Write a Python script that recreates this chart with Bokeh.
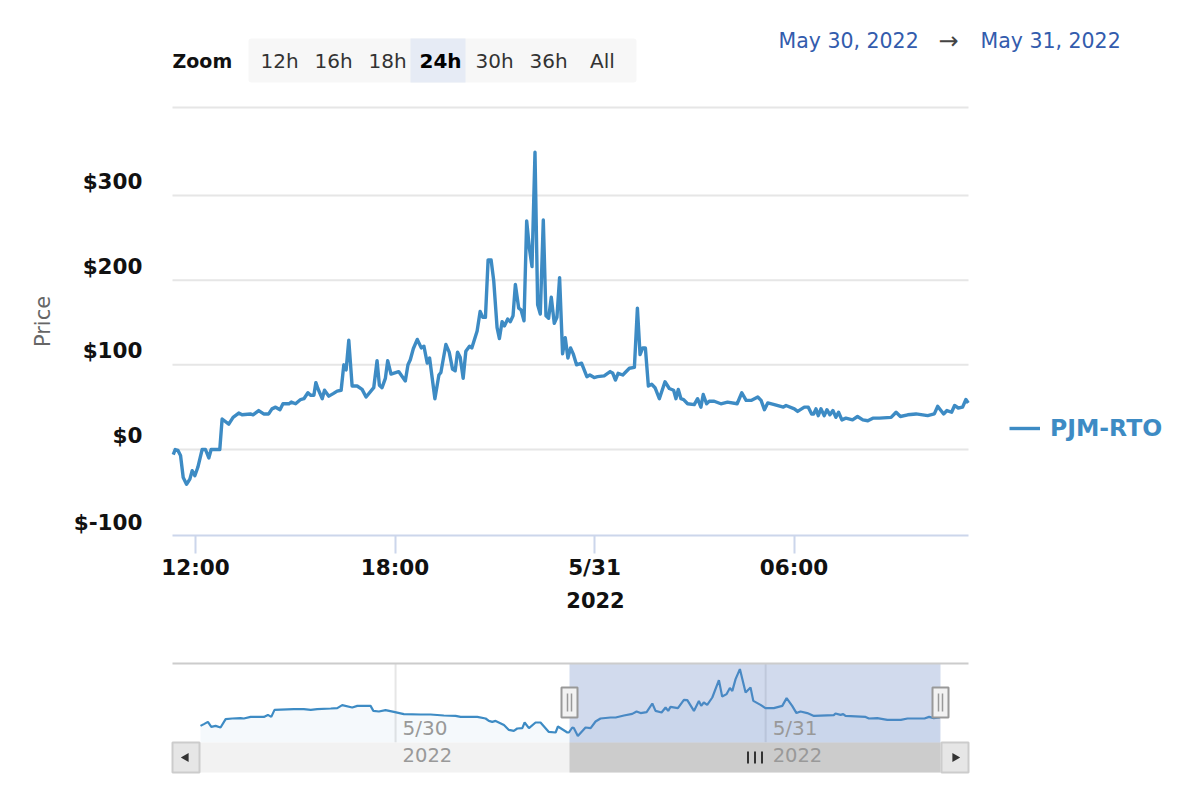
from bokeh.plotting import figure
from bokeh.layouts import column
from bokeh.models import (FixedTicker, Label, BoxAnnotation, Legend, LegendItem, LinearAxis)
from bokeh.embed import file_html
from bokeh.resources import INLINE
import math

# hours since 2022-05-30 00:00
main_hours = [11.33,11.39,11.47,11.55,11.63,11.73,11.83,11.90,11.98,12.07,12.2,12.30,12.40,12.47,12.73,12.80,13.0,13.13,13.30,13.40,13.65,13.73,13.90,14.05,14.2,14.30,14.41,14.54,14.63,14.81,14.88,15.01,15.16,15.26,15.38,15.46,15.56,15.62,15.68,15.81,15.88,16.01,16.14,16.26,16.38,16.46,16.53,16.61,16.71,16.86,17.01,17.13,17.36,17.46,17.53,17.61,17.71,17.78,17.88,18.11,18.31,18.39,18.46,18.55,18.67,18.79,18.87,18.97,19.04,19.2,19.32,
 19.38,19.53,19.63,19.73,19.81,19.88,19.96,20.05,20.13,20.24,20.31,20.47,20.56,20.64,20.72,20.80,20.89,20.97,21.07,21.14,21.22,21.29,21.39,21.47,21.55,21.62,21.72,21.79,21.88,21.96,22.04,22.12,22.21,22.29,22.37,22.46,22.54,22.62,22.70,22.79,22.87,22.95,23.04,23.12,23.2,23.28,23.36,23.46,23.61,23.77,23.86,23.99,24.09,24.29,24.47,24.55,24.63,24.71,24.85,25.05,25.20,25.29,25.37,25.45,25.53,25.62,25.72,25.82,25.95,
 26.12,26.25,26.38,26.45,26.52,26.6,26.68,26.8,27.0,27.1,27.2,27.27,27.37,27.45,27.6,27.8,28.0,28.29,28.43,28.56,28.71,28.91,29.01,29.11,29.21,29.41,29.68,29.76,30.01,30.11,30.31,30.43,30.53,30.59,30.66,30.73,30.81,30.91,30.99,31.08,31.17,31.26,31.34,31.44,31.56,31.76,31.91,32.07,32.22,32.37,32.57,32.92,33.07,33.2,33.42,33.67,34.02,34.22,34.32,34.5,34.6,34.74,34.83,34.94,35.07,35.17,35.24]
main_price = [-6,0,-1,-7,-33,-41,-35,-25,-31,-21,0,0,-10,0,0,36,30,38,43,41,42,41,46,42,42,48,50,47,54,54,56,54,59,60,67,64,64,79,72,60,70,63,66,69,70,100,94,129,75,75,71,62,73,105,76,73,84,105,89,92,81,100,106,119,130,120,122,102,108,60,88,
 91,124,115,95,93,115,109,84,116,122,120,140,163,156,156,224,224,199,144,131,151,146,154,151,158,195,167,165,152,270,238,216,351,171,160,271,158,155,180,149,156,203,113,132,108,120,113,100,102,86,88,85,86,87,92,90,82,90,88,96,97,167,112,120,120,75,77,73,60,
 80,72,70,60,71,60,59,54,53,60,50,65,54,57,57,54,56,54,67,58,58,62,58,47,55,53,50,52,48,45,50,50,42,42,48,40,48,40,47,41,46,38,44,35,37,35,39,35,34,37,37,38,44,39,41,42,40,42,51,42,46,44,52,49,50,59,55]

nav_hours = [-12.65,-12.43,-12.17,-11.95,-11.67,-11.35,-11.02,-10.59,-10.05,-9.84,-9.4,-8.54,-8.28,-8.06,-7.85,-6.6,-5.95,-5.5,-5.08,-4.2,-3.78,-3.46,-2.81,-2.48,-1.62,-1.44,-1.08,-0.65,-0.11,0.54,1.62,2.27,3.13,3.89,4.22,5.3,5.84,6.05,6.27,6.49,7.03,7.35,7.67,7.89,8.22,8.37,8.65,9.08,9.4,9.94,10.38,10.53,11.14,
 11.24,11.46,11.56,11.82,12.32,12.65,12.97,13.29,13.94,14.27,14.81,15.35,15.63,15.89,16.28,16.65,16.86,17.25,17.51,17.68,17.83,18.31,18.7,18.92,19.35,19.67,19.82,19.99,20.21,20.54,20.97,21.18,21.47,21.68,21.84,22.05,22.33,22.7,23.02,23.2,23.67,23.99,24.53,25.08,25.36,25.72,26.0,26.26,26.7,27.13,28.42,28.53,28.86,29.03,29.18,30.48,30.7,31.24,31.89,32.77,33.2,34.3,34.6,34.9,35.3]
nav_price = [8,17,28,3,8,0,42,45,47,45,53,53,63,53,88,92,92,88,92,95,97,112,100,108,108,83,80,87,78,67,65,65,60,58,53,53,45,33,28,33,13,-12,-17,-5,-3,25,-3,25,25,-22,-25,5,-25,
 -25,0,-3,-42,0,-3,30,45,50,50,60,68,80,72,77,120,83,75,100,83,103,97,138,137,83,133,108,125,113,150,237,155,167,197,183,242,292,175,200,133,113,97,97,108,147,108,72,80,72,58,62,70,63,67,58,53,45,47,38,38,45,45,53,47,50]

y_ticks = [0, 100, 200, 300]
y_label_values = [-100, 0, 100, 200, 300]
y_tick_labels = ["$-100", "$0", "$100", "$200", "$300"]
x_ticks = [12, 18, 24, 30]
x_tick_labels = ["12:00", "18:00", "5/31", "06:00"]
zoom_buttons = ["12h", "16h", "18h", "24h", "30h", "36h", "All"]
series_name = "PJM-RTO"
LINE = "#3d8bc4"
FONT = "DejaVu Sans"
W, F1, H1, H2 = 1190, 535, 583, 197

# page pixel -> data helpers for furniture placement
X0, X1 = 11.308, 35.248
def X(px): return X0 + (px - 172) / 796 * (X1 - X0)
def Y(py): return (449 - py) / 0.8467

p = figure(output_backend="svg", toolbar_location=None, frame_width=W, frame_height=F1,
           x_range=(X(0), X(W)), y_range=(Y(F1), Y(0)), min_border=0, min_border_bottom=H1-F1,
           outline_line_color=None, x_axis_type=None, y_axis_type=None)
p.xgrid.visible = False
p.ygrid.visible = False
p.segment(x0=[X0]*5, x1=[X1]*5, y0=y_ticks+[Y(107)], y1=y_ticks+[Y(107)], line_color="#e6e6e6", line_width=2)

ax = LinearAxis(bounds=(X0, X1))
ax.ticker = FixedTicker(ticks=x_ticks)
ax.major_label_overrides = dict(zip(x_ticks, x_tick_labels))
ax.axis_line_color = "#ccd6eb"
ax.axis_line_width = 2
ax.major_tick_line_color = "#ccd6eb"
ax.major_tick_line_width = 2
ax.major_tick_in = 0
ax.major_tick_out = 18
ax.minor_tick_line_color = None
ax.major_label_text_font = FONT
ax.major_label_text_font_style = "bold"
ax.major_label_text_font_size = "21.5px"
ax.major_label_text_color = "#111111"
ax.major_label_standoff = 1
p.add_layout(ax, "below")

r = p.line(main_hours, main_price, line_color=LINE, line_width=3.4, line_join="round")

for v, t in zip(y_label_values, y_tick_labels):
    p.add_layout(Label(x=X(142), y=v, y_offset=12 if v < 0 else 14, text=t, text_align="right", text_baseline="middle",
                       text_font=FONT, text_font_style="bold", text_font_size="21.5px", text_color="#111111"))
p.add_layout(Label(x=X(42), y=Y(321), text="Price", angle=math.pi/2, text_align="center", text_baseline="middle",
                   text_font=FONT, text_font_size="21px", text_color="#666666"))

# header
p.add_layout(BoxAnnotation(left=X(248), right=X(636), top=Y(38), bottom=Y(82), fill_color="#f7f7f7", fill_alpha=1, line_color=None, border_radius=3))
p.add_layout(BoxAnnotation(left=X(410), right=X(465), top=Y(38), bottom=Y(82), fill_color="#e6ebf5", fill_alpha=1, line_color=None))
p.add_layout(Label(x=X(172), y=Y(60), text="Zoom", text_align="left", text_baseline="middle",
                   text_font=FONT, text_font_style="bold", text_font_size="19px", text_color="#111111"))
for t, cx in zip(zoom_buttons, [279, 333, 387, 440, 494, 548, 602]):
    sel = t == "24h"
    p.add_layout(Label(x=X(cx), y=Y(60), text=t, text_align="center", text_baseline="middle",
                       text_font=FONT, text_font_style="bold" if sel else "normal", text_font_size="20px",
                       text_color="#000000" if sel else "#333333"))
for t, px, col, size in (("May 30, 2022", 778, "#335cad", "20.5px"), ("\u2192", 938, "#444444", "24px"), ("May 31, 2022", 980, "#335cad", "20.5px")):
    p.add_layout(Label(x=X(px), y=Y(40), text=t, text_align="left", text_baseline="middle",
                       text_font=FONT, text_font_size=size, text_color=col))

leg = Legend(items=[LegendItem(label=series_name, renderers=[r])], location=(1009, F1-442), background_fill_alpha=0,
             border_line_color=None, glyph_width=31, label_text_font=FONT, label_text_font_style="bold",
             label_text_font_size="23.5px", label_text_color=LINE, padding=0, margin=0, label_standoff=10)
p.add_layout(leg, "center")

# navigator
PH = 15.42
NX0 = -12.65 - 28 / PH
NX1 = NX0 + 796 / PH
def NXp(px): return NX0 + (px - 172) / PH
def NY(py): return (727 - py) / 0.2   # py measured on the page
SEL0, SEL1 = NXp(569), NXp(940)
AREA_B, NAV_T, NAV_B = NY(742), NY(663), NY(772)
n = figure(output_backend="svg", toolbar_location=None, frame_width=W, frame_height=H2,
           x_range=(NXp(0), NXp(W)), y_range=(NY(H1+H2), NY(H1)), min_border=0, outline_line_color=None,
           x_axis_type=None, y_axis_type=None)
n.xgrid.visible = False
n.ygrid.visible = False
n.add_layout(Label(x=NXp(595), y=NY(599), text="2022", text_align="center", text_baseline="middle",
                   text_font=FONT, text_font_style="bold", text_font_size="21px", text_color="#111111"))
nav_ticks = [0, 24]
n.segment(x0=nav_ticks, x1=nav_ticks, y0=[AREA_B]*2, y1=[NAV_T]*2, line_color="#e6e6e6", line_width=2)
n.varea(x=nav_hours, y1=[AREA_B]*len(nav_hours), y2=nav_price, fill_color=LINE, fill_alpha=0.05)
n.line(nav_hours, nav_price, line_color=LINE, line_width=2.2)
# scrollbar
n.quad(left=[NX0], right=[NX1], top=[AREA_B], bottom=[NAV_B], fill_color="#f2f2f2", line_color=None)
n.quad(left=[SEL0], right=[SEL1], top=[AREA_B], bottom=[NAV_B], fill_color="#cccccc", line_color=None)
n.quad(left=[SEL0], right=[SEL1], top=[NAV_T], bottom=[AREA_B], fill_color="#6685c2", fill_alpha=0.3, line_color=None)
n.segment(x0=[NX0], x1=[NX1], y0=[NAV_T], y1=[NAV_T], line_color="#cccccc", line_width=2)
n.quad(left=[NXp(172), NXp(941)], right=[NXp(199), NXp(968)], top=[AREA_B]*2, bottom=[NAV_B]*2, fill_color="#e6e6e6", line_color="#cccccc", line_width=2)
mid = NY(757)
n.scatter([NXp(185.5)], [mid], marker="triangle", size=9, angle=math.pi/2, fill_color="#333333", line_color=None)
n.scatter([NXp(954.5)], [mid], marker="triangle", size=9, angle=-math.pi/2, fill_color="#333333", line_color=None)
bars = [NXp(747.5), NXp(754.5), NXp(761.5)]
n.segment(x0=bars, x1=bars, y0=[NY(763)]*3, y1=[NY(751)]*3, line_color="#333333", line_width=2)
for c in (569, 940):
    n.quad(left=[NXp(c-8)], right=[NXp(c+8)], top=[NY(687)], bottom=[NY(717)], fill_color="#f2f2f2", line_color="#999999", line_width=2)
    n.segment(x0=[NXp(c-2), NXp(c+2)], x1=[NXp(c-2), NXp(c+2)], y0=[NY(693)]*2, y1=[NY(711)]*2, line_color="#999999", line_width=1.5)
for xv, t in zip(nav_ticks, ["5/30", "5/31"]):
    n.add_layout(Label(x=xv, y=NY(727), x_offset=7, text=t, text_align="left", text_baseline="middle",
                       text_font=FONT, text_font_size="20px", text_color="#999999"))
    n.add_layout(Label(x=xv, y=NY(754), x_offset=7, text="2022", text_align="left", text_baseline="middle",
                       text_font=FONT, text_font_size="19.5px", text_color="#999999"))

layout = column(p, n, spacing=0)
open("out.html", "w").write(file_html(layout, INLINE))
